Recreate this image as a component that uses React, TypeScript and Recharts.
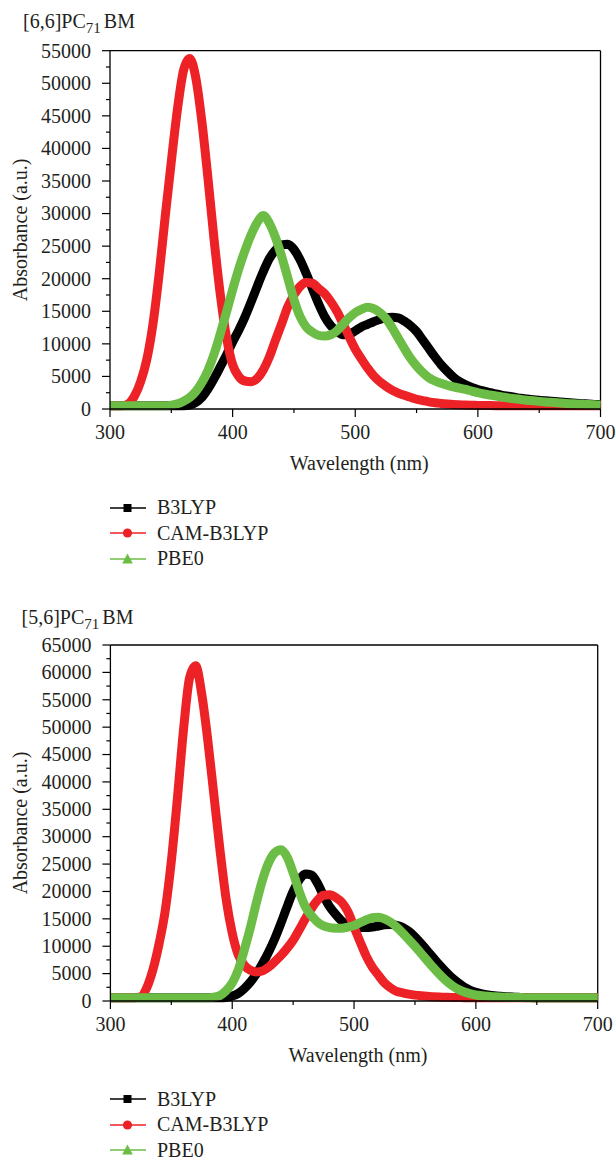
import { LineChart, Line, XAxis, YAxis, ReferenceLine, Label } from 'recharts';

// wavelength grid (nm)
const wavelengths = [
  300, 305, 310, 315, 320, 325, 330, 335, 340, 345,
  350, 355, 360, 365, 370, 375, 380, 385, 390, 395,
  400, 405, 410, 415, 420, 425, 430, 435, 440, 445,
  450, 455, 460, 465, 470, 475, 480, 485, 490, 495,
  500, 505, 510, 515, 520, 525, 530, 535, 540, 545,
  550, 555, 560, 565, 570, 575, 580, 585, 590, 595,
  600, 605, 610, 615, 620, 625, 630, 635, 640, 645,
  650, 655, 660, 665, 670, 675, 680, 685, 690, 695,
  700,
];

// [6,6]PC71BM
const b3lyp66 = [
  500, 500, 500, 500, 500, 500, 500, 500, 500, 500,
  500, 500, 500, 600, 1000, 1800, 3100, 4700, 6500, 8300,
  10300, 12100, 14100, 16400, 18800, 21100, 23100, 24400, 25200, 25300,
  24500, 22900, 20800, 18500, 16200, 14200, 12800, 11900, 11400, 11500,
  12000, 12600, 13000, 13400, 13750, 14000, 14100, 14000, 13500, 12800,
  11900, 10600, 9300, 8000, 6800, 5800, 4900, 4200, 3700, 3300,
  3000, 2750, 2500, 2300, 2100, 1950, 1800, 1650, 1530, 1420,
  1330, 1250, 1180, 1100, 1020, 950, 880, 820, 770, 710,
  660,
];
const cam66 = [
  500, 500, 500, 800, 2000, 4200, 7600, 13000, 20600, 29500,
  38000, 46000, 52000, 53800, 50800, 44000, 35200, 25800, 17500, 11000,
  6800, 5000, 4300, 4200, 4700, 6000, 8000, 10600, 13100, 15700,
  17500, 18800, 19400, 19300, 18500, 17700, 16500, 15000, 13100, 11100,
  9200, 7700, 6300, 5100, 4200, 3500, 2900, 2450, 2100, 1800,
  1500, 1300, 1100, 950, 850, 770, 700, 650, 600, 570,
  550, 530, 520, 510, 500, 500, 500, 500, 500, 500,
  500, 500, 500, 500, 500, 500, 500, 500, 500, 500,
  500,
];
const pbe066 = [
  500, 500, 500, 500, 500, 500, 500, 500, 500, 500,
  600, 800, 1200, 1750, 2700, 4100, 6000, 8500, 11600, 14900,
  18300, 21500, 24300, 26700, 28600, 29700, 28500, 26300, 23400, 20100,
  16800, 14200, 12600, 11800, 11300, 11200, 11400, 12000, 13000, 14000,
  14800, 15300, 15600, 15400, 14800, 13900, 12500, 10900, 9300, 7800,
  6600, 5600, 4800, 4300, 3950, 3650, 3400, 3200, 3000, 2750,
  2500, 2300, 2150, 2000, 1850, 1700, 1580, 1460, 1350, 1260,
  1170, 1090, 1020, 950, 880, 820, 770, 720, 680, 640,
  600,
];

// [5,6]PC71BM
const b3lyp56 = [
  600, 600, 600, 600, 600, 600, 600, 600, 600, 600,
  600, 600, 600, 600, 600, 600, 600, 600, 600, 650,
  900, 1400, 2300, 3500, 5000, 6900, 9000, 11400, 14200, 17200,
  20000, 22100, 23200, 23000, 21500, 19200, 17200, 15800, 14600, 13800,
  13500, 13400, 13400, 13500, 13700, 13900, 13950, 13800, 13400, 12700,
  11700, 10500, 9200, 7900, 6600, 5400, 4300, 3400, 2600, 2000,
  1600, 1300, 1100, 950, 850, 770, 710, 670, 640, 620,
  600, 600, 600, 600, 600, 600, 600, 600, 600, 600,
  600,
];
const cam56 = [
  600, 600, 600, 600, 600, 800, 2500, 5800, 10500, 16500,
  25500, 37000, 49500, 59000, 61200, 56000, 47500, 37500, 27500, 18600,
  12400, 8400, 6500, 5600, 5300, 5500, 6200, 7200, 8300, 9600,
  11100, 13000, 15000, 16900, 18400, 19300, 19400, 18900, 18000, 16300,
  13500, 10800, 8200, 6200, 4700, 3300, 2400, 1750, 1500, 1250,
  1080, 950, 850, 780, 720, 680, 650, 630, 610, 600,
  600, 600, 600, 600, 600, 600, 600, 600, 600, 600,
  600, 600, 600, 600, 600, 600, 600, 600, 600, 600,
  600,
];
const pbe056 = [
  600, 600, 600, 600, 600, 600, 600, 600, 600, 600,
  600, 600, 600, 600, 600, 600, 600, 700, 1000, 1900,
  3300, 5700, 9400, 13500, 18100, 22200, 25300, 27100, 27600, 26300,
  23400, 20000, 17200, 15600, 14400, 13700, 13400, 13300, 13300, 13500,
  13800, 14300, 14800, 15200, 15300, 15000, 14400, 13500, 12400, 11200,
  10000, 8700, 7400, 6100, 4900, 3800, 2900, 2200, 1700, 1350,
  1100, 950, 850, 780, 720, 680, 650, 630, 610, 600,
  600, 600, 600, 600, 600, 600, 600, 600, 600, 600,
  600,
];

const xTicks = [300, 350, 400, 450, 500, 550, 600, 650, 700];
const yTicks66 = [
  0, 2500, 5000, 7500, 10000, 12500, 15000, 17500, 20000, 22500, 25000, 27500,
  30000, 32500, 35000, 37500, 40000, 42500, 45000, 47500, 50000, 52500, 55000,
];
const yTicks56 = [
  0, 2500, 5000, 7500, 10000, 12500, 15000, 17500, 20000, 22500, 25000, 27500,
  30000, 32500, 35000, 37500, 40000, 42500, 45000, 47500, 50000, 52500, 55000,
  57500, 60000, 62500, 65000,
];

const seriesNames = ['B3LYP', 'CAM-B3LYP', 'PBE0'];
const RED = '#ec2227';
const GREEN = '#6cbd45';
const FONT = "'Liberation Serif', 'Times New Roman', serif";
const TEXT = '#231f20';

const XTick = ({ x, y, payload }: any) => {
  const major = payload.value % 100 === 0;
  return (
    <g>
      <line x1={x} x2={x} y1={y} y2={y + (major ? 8 : 4)} stroke="#000" strokeWidth={1.2} />
      {major && (
        <text x={x} y={y + 30} textAnchor="middle" fontSize={20} fontFamily={FONT} fill={TEXT}>
          {payload.value}
        </text>
      )}
    </g>
  );
};

const YTick = ({ x, y, payload }: any) => {
  const major = payload.value % 5000 === 0;
  return (
    <g>
      <line x1={x} x2={x - (major ? 8 : 4)} y1={y} y2={y} stroke="#000" strokeWidth={1.2} />
      {major && (
        <text x={x - 19} y={y} dy="0.34em" textAnchor="end" fontSize={20} fontFamily={FONT} fill={TEXT}>
          {payload.value}
        </text>
      )}
    </g>
  );
};

const LegendIcon = ({ i }: { i: number }) => {
  const color = ['#000', RED, GREEN][i];
  return (
    <svg width={36} height={14} style={{ display: 'block' }}>
      <line x1={0} x2={36} y1={7} y2={7} stroke={color} strokeWidth={1.5} />
      {i === 0 && <rect x={13.5} y={3} width={8} height={8} fill={color} />}
      {i === 1 && <circle cx={17.5} cy={7} r={4.6} fill={color} />}
      {i === 2 && <polygon points="17.5,1.5 12.2,11.5 22.8,11.5" fill={color} />}
    </svg>
  );
};

const LegendBlock = ({ top }: { top: number }) => (
  <div style={{ position: 'absolute', left: 110, top, fontFamily: FONT, fontSize: 20, color: TEXT }}>
    {seriesNames.map((name, i) => (
      <div key={name} style={{ display: 'flex', alignItems: 'center', height: 25.5 }}>
        <LegendIcon i={i} />
        <span style={{ marginLeft: 11, whiteSpace: 'nowrap' }}>{name}</span>
      </div>
    ))}
  </div>
);

type PanelProps = {
  isomer: string;
  b3lyp: number[];
  cam: number[];
  pbe0: number[];
  yMax: number;
  yTicks: number[];
  top: number;
  margin: { top: number; right: number; bottom: number; left: number };
  titleLeft: number;
  titleTop: number;
  legendTop: number;
};

const Panel = (p: PanelProps) => {
  const data = wavelengths.map((w, i) => ({
    wavelength: w,
    b3lyp: p.b3lyp[i],
    cam: p.cam[i],
    pbe0: p.pbe0[i],
  }));

  return (
    <>
      <div
        style={{
          position: 'absolute',
          left: p.titleLeft,
          top: p.titleTop,
          fontFamily: FONT,
          fontSize: 20,
          lineHeight: '24px',
          whiteSpace: 'nowrap',
          color: TEXT,
        }}
      >
        {p.isomer}PC
        <span style={{ fontSize: 15, position: 'relative', top: 5, marginRight: 3 }}>71</span>
        BM
      </div>
      <div style={{ position: 'absolute', left: 0, top: p.top }}>
        <LineChart width={616} height={480} data={data} margin={p.margin}>
          <XAxis
            dataKey="wavelength"
            type="number"
            domain={[300, 700]}
            ticks={xTicks}
            interval={0}
            height={50}
            tickSize={0}
            tickMargin={0}
            tickLine={false}
            tick={(props: any) => <XTick {...props} />}
            axisLine={{ stroke: '#000', strokeWidth: 1.3 }}
          >
            <Label
              content={({ viewBox }: any) => (
                <text
                  x={viewBox.x + viewBox.width / 2 + 4}
                  y={viewBox.y + 61}
                  textAnchor="middle"
                  fontSize={20}
                  fontFamily={FONT}
                  fill={TEXT}
                >
                  Wavelength (nm)
                </text>
              )}
            />
          </XAxis>
          <YAxis
            type="number"
            domain={[0, p.yMax]}
            ticks={p.yTicks}
            interval={0}
            width={100}
            tickSize={0}
            tickMargin={0}
            tickLine={false}
            tick={(props: any) => <YTick {...props} />}
            axisLine={{ stroke: '#000', strokeWidth: 1.3 }}
          >
            <Label
              content={({ viewBox }: any) => {
                const cy = viewBox.y + viewBox.height / 2;
                return (
                  <text
                    x={27}
                    y={cy}
                    transform={`rotate(-90 27 ${cy})`}
                    textAnchor="middle"
                    fontSize={20}
                    fontFamily={FONT}
                    fill={TEXT}
                  >
                    Absorbance (a.u.)
                  </text>
                );
              }}
            />
          </YAxis>
          <ReferenceLine y={p.yMax} stroke="#000" strokeWidth={1.3} />
          <ReferenceLine x={700} stroke="#000" strokeWidth={1.3} />
          <Line
            type="monotone"
            dataKey="b3lyp"
            stroke="#000"
            strokeWidth={9}
            strokeLinejoin="round"
            dot={false}
            isAnimationActive={false}
          />
          <Line
            type="monotone"
            dataKey="cam"
            stroke={RED}
            strokeWidth={9}
            strokeLinejoin="round"
            dot={false}
            isAnimationActive={false}
          />
          <Line
            type="monotone"
            dataKey="pbe0"
            stroke={GREEN}
            strokeWidth={9}
            strokeLinejoin="round"
            dot={false}
            isAnimationActive={false}
          />
        </LineChart>
      </div>
      <LegendBlock top={p.legendTop} />
    </>
  );
};

const App = () => (
  <div style={{ position: 'absolute', left: 0, top: 0, width: 616, height: 1161, background: '#fff', overflow: 'hidden' }}>
    <Panel
      isomer="[6,6]"
      b3lyp={b3lyp66}
      cam={cam66}
      pbe0={pbe066}
      yMax={55000}
      yTicks={yTicks66}
      top={0}
      margin={{ top: 50.7, right: 15.5, bottom: 21, left: 10 }}
      titleLeft={23}
      titleTop={9}
      legendTop={494.75}
    />
    <Panel
      isomer="[5,6]"
      b3lyp={b3lyp56}
      cam={cam56}
      pbe0={pbe056}
      yMax={65000}
      yTicks={yTicks56}
      top={590}
      margin={{ top: 55, right: 18.3, bottom: 19, left: 10.4 }}
      titleLeft={21.5}
      titleTop={604.5}
      legendTop={1086.25}
    />
  </div>
);

export default App;
